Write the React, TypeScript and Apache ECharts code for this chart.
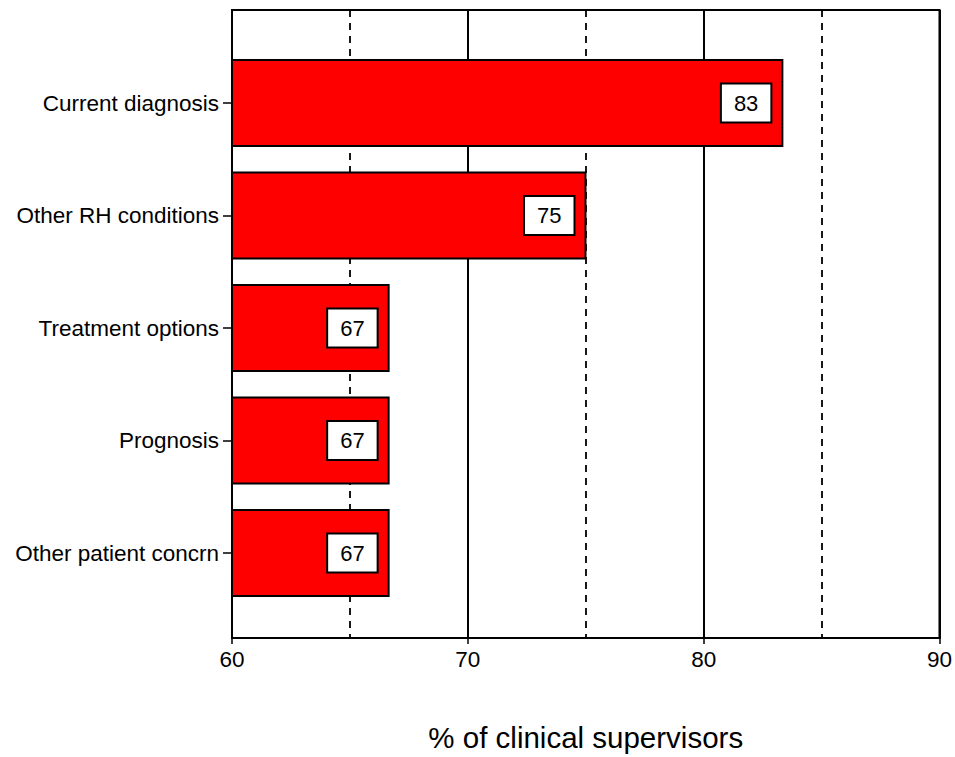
import React, { useEffect, useRef } from "react";
import * as echarts from "echarts";

const categories = [
  "Current diagnosis",
  "Other RH conditions",
  "Treatment options",
  "Prognosis",
  "Other patient concrn",
];
const values = [83.33, 75, 66.67, 66.67, 66.67];
const xMin = 60;
const xMax = 90;
const xTitle = "% of clinical supervisors";

export default function App() {
  const ref = useRef<HTMLDivElement>(null);
  useEffect(() => {
    const chart = echarts.init(ref.current!, null, { renderer: "svg" });
    const font = "'Liberation Sans', Arial, sans-serif";
    chart.setOption({
      animation: false,
      backgroundColor: "#ffffff",
      textStyle: { fontFamily: font },
      grid: [
        {
          left: 232,
          right: 14,
          top: 10,
          bottom: 112,
          show: true,
          borderColor: "#000",
          borderWidth: 2,
          backgroundColor: "transparent",
          z: 0,
        },
        { left: 232, right: 14, top: 46.75, height: 562.5 },
      ],
      xAxis: [
        {
          gridIndex: 0,
          type: "value",
          min: xMin,
          max: xMax,
          interval: 10,
          axisLine: { show: true, lineStyle: { color: "#000", width: 2 } },
          axisTick: { show: true, length: 6, lineStyle: { color: "#000", width: 1.5 } },
          axisLabel: { color: "#000", fontSize: 22.5, margin: 10, fontFamily: font },
          splitLine: { show: true, lineStyle: { color: "#000", width: 2 } },
          minorTick: { show: false, splitNumber: 2 },
          minorSplitLine: { show: true, lineStyle: { color: "#000", width: 1.8, type: [7, 6] } },
          name: xTitle,
          nameLocation: "middle",
          nameGap: 84,
          nameTextStyle: { color: "#000", fontSize: 29.5, fontFamily: font },
        },
        {
          gridIndex: 1,
          type: "value",
          min: xMin,
          max: xMax,
          show: false,
        },
      ],
      yAxis: [
        {
          gridIndex: 0,
          type: "value",
          show: false,
        },
        {
          gridIndex: 1,
          type: "category",
          data: categories,
          inverse: true,
          axisLine: { show: false },
          axisTick: { show: true, alignWithLabel: true, length: 9, lineStyle: { color: "#000", width: 1.5 } },
          axisLabel: { color: "#000", fontSize: 22.5, margin: 13, fontFamily: font },
          splitLine: { show: false },
        },
      ],
      series: [
        {
          type: "bar",
          xAxisIndex: 1,
          yAxisIndex: 1,
          data: values,
          barWidth: 88,
          itemStyle: { color: "#ff0000", borderColor: "#000", borderWidth: 2 },
          label: {
            show: true,
            position: "insideRight",
            distance: 13,
            formatter: (p: any) => String(Math.round(p.value)),
            color: "#000",
            fontSize: 22,
            fontFamily: font,
            backgroundColor: "#fff",
            borderColor: "#000",
            borderWidth: 2,
            padding: [8, 12, 7, 12],
          },
          z: 3,
        },
      ],
    });
    return () => chart.dispose();
  }, []);
  return <div ref={ref} style={{ width: 955, height: 757, position: "absolute", left: 0, top: 0 }} />;
}
